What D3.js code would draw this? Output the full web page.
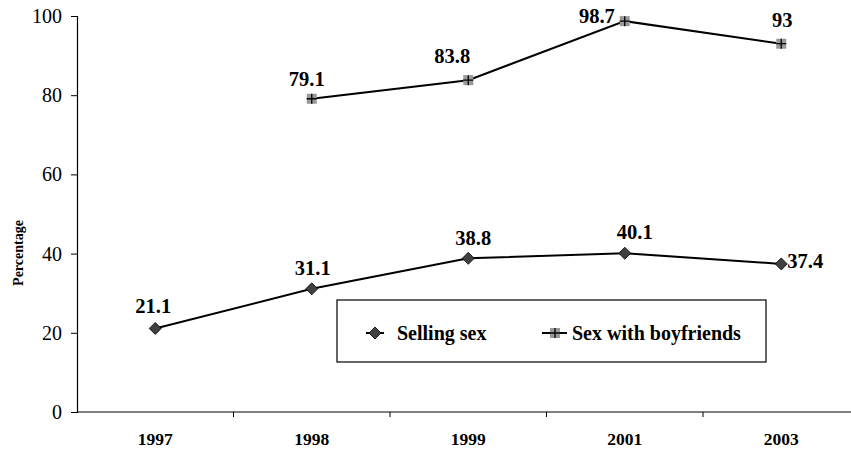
<!DOCTYPE html>
<html>
<head>
<meta charset="utf-8">
<script src="https://cdn.jsdelivr.net/npm/d3@7"></script>
<style>
  body { margin: 0; background: #fff; }
  svg, svg text { font-family: "Liberation Serif", Tinos, "Times New Roman", Times, "DejaVu Serif", serif !important; }
</style>
</head>
<body>
<div id="chart"></div>
<script>
// data
var years = ["1997", "1998", "1999", "2001", "2003"];
var sellingSex = [21.1, 31.1, 38.8, 40.1, 37.4];
var boyfriends = [null, 79.1, 83.8, 98.7, 93];
var yTicks = [0, 20, 40, 60, 80, 100];

// label nudges (excel put them a bit all over the place)
var sellLabelPos = [[-2, -15, "middle"], [1, -14, "middle"], [5, -13, "middle"], [10, -14, "middle"], [6, 4, "start"]];
var boyLabelPos = [null, [-5, -13, "middle"], [-16, -17, "middle"], [-10, 2, "end"], [1, -17, "middle"]];

var width = 851, height = 453;

var svg = d3.select("#chart")
    .append("svg")
    .attr("width", width)
    .attr("height", height);

var x = d3.scaleBand()
    .domain(years)
    .range([77, 859.5]);

var y = d3.scaleLinear()
    .domain([0, 100])
    .range([412, 16]);

// y axis
var yAxis = svg.append("g")
    .attr("transform", "translate(77,0)")
    .call(d3.axisLeft(y).tickValues(yTicks).tickSize(6).tickPadding(9).tickFormat(d3.format("d")));
yAxis.attr("font-family", null);
yAxis.select(".domain").attr("stroke", "#000").attr("stroke-width", 1.2);
yAxis.selectAll("text").attr("font-size", "20px").attr("fill", "#000");

// x axis (ticks on band edges)
var xAxisG = svg.append("g").attr("class", "xaxis");
xAxisG.append("line")
    .attr("x1", 77).attr("x2", width)
    .attr("y1", y(0)).attr("y2", y(0))
    .attr("stroke", "#000").attr("stroke-width", 1.2);
xAxisG.selectAll(".tk")
    .data(years.slice(1))
    .enter()
    .append("line")
    .attr("x1", function(d) { return x(d); })
    .attr("x2", function(d) { return x(d); })
    .attr("y1", y(0)).attr("y2", y(0) + 5)
    .attr("stroke", "#000");
xAxisG.selectAll(".yl")
    .data(years)
    .enter()
    .append("text")
    .attr("x", function(d) { return x(d) + x.bandwidth() / 2; })
    .attr("y", 445)
    .attr("text-anchor", "middle")
    .attr("font-size", "17.5px")
    .attr("font-weight", "bold")
    .text(function(d) { return d; });

svg.append("text")
    .attr("transform", "translate(23,253) rotate(-90)")
    .attr("text-anchor", "middle")
    .attr("font-size", "14px")
    .attr("font-weight", "bold")
    .text("Percentage");

var cx = function(i) { return x(years[i]) + x.bandwidth() / 2; };

var line = d3.line()
    .defined(function(d) { return d != null; })
    .x(function(d, i) { return cx(i); })
    .y(function(d) { return y(d); });

svg.append("path")
    .datum(boyfriends)
    .attr("d", line)
    .attr("fill", "none")
    .attr("stroke", "#000")
    .attr("stroke-width", 2);

svg.append("path")
    .datum(sellingSex)
    .attr("d", line)
    .attr("fill", "none")
    .attr("stroke", "#000")
    .attr("stroke-width", 2);

function diamond(g, px, py) {
    g.append("path")
        .attr("d", "M" + px + "," + (py - 6) + "L" + (px + 6) + "," + py + "L" + px + "," + (py + 6) + "L" + (px - 6) + "," + py + "Z")
        .attr("fill", "#404040")
        .attr("stroke", "#000")
        .attr("stroke-width", 0.8);
}
function squarePlus(g, px, py) {
    g.append("rect")
        .attr("x", px - 5).attr("y", py - 5)
        .attr("width", 10).attr("height", 10)
        .attr("fill", "#999");
    g.append("path")
        .attr("d", "M" + (px - 5) + "," + py + "H" + (px + 5) + "M" + px + "," + (py - 5) + "V" + (py + 5))
        .attr("stroke", "#000")
        .attr("stroke-width", 1.3);
}

var marks = svg.append("g");
sellingSex.forEach(function(v, i) { diamond(marks, cx(i), y(v)); });
boyfriends.forEach(function(v, i) { if (v != null) squarePlus(marks, cx(i), y(v)); });

// data labels
var labels = svg.append("g")
    .attr("font-size", "20.5px")
    .attr("font-weight", "bold");
sellingSex.forEach(function(v, i) {
    var p = sellLabelPos[i];
    labels.append("text")
        .attr("x", cx(i) + p[0])
        .attr("y", y(v) + p[1])
        .attr("text-anchor", p[2])
        .text(v);
});
boyfriends.forEach(function(v, i) {
    if (v == null) return;
    var p = boyLabelPos[i];
    labels.append("text")
        .attr("x", cx(i) + p[0])
        .attr("y", y(v) + p[1])
        .attr("text-anchor", p[2])
        .text(v);
});

// legend
var legend = svg.append("g");
legend.append("rect")
    .attr("x", 337).attr("y", 300)
    .attr("width", 429).attr("height", 62)
    .attr("fill", "#fff")
    .attr("stroke", "#000")
    .attr("stroke-width", 1.2);
legend.append("line")
    .attr("x1", 366).attr("x2", 384).attr("y1", 333).attr("y2", 333)
    .attr("stroke", "#000").attr("stroke-width", 2);
diamond(legend, 375, 333);
legend.append("text")
    .attr("x", 397).attr("y", 340)
    .attr("font-size", "20px").attr("font-weight", "bold")
    .text("Selling sex");
legend.append("line")
    .attr("x1", 542).attr("x2", 567).attr("y1", 333).attr("y2", 333)
    .attr("stroke", "#000").attr("stroke-width", 2);
squarePlus(legend, 555, 333);
legend.append("text")
    .attr("x", 572).attr("y", 340)
    .attr("font-size", "20px").attr("font-weight", "bold")
    .text("Sex with boyfriends");
</script>
</body>
</html>
